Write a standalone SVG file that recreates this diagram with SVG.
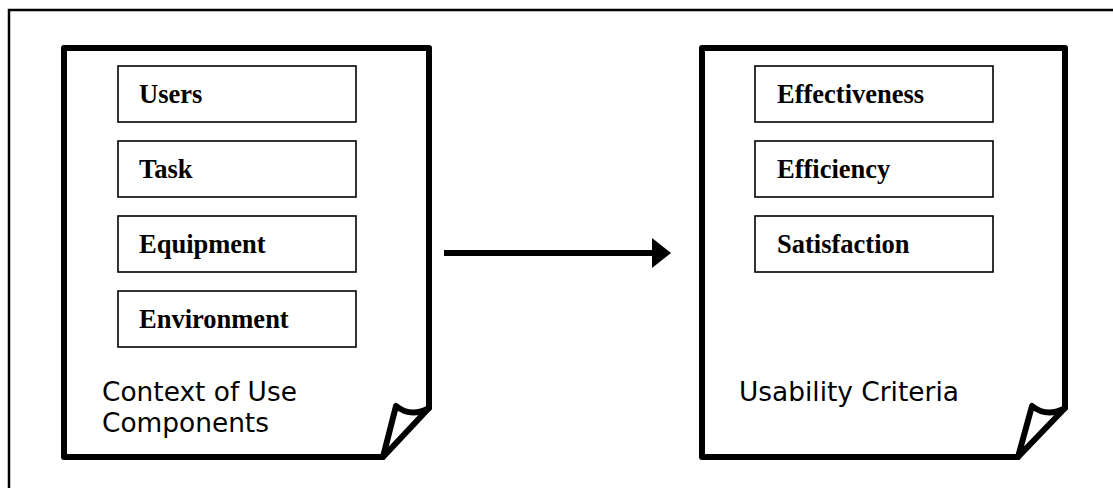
<svg xmlns="http://www.w3.org/2000/svg" width="1113" height="488" viewBox="0 0 1113 488">
<style>
.doc{fill:#fff;stroke:#000;stroke-width:6;stroke-linejoin:round;stroke-linecap:round}
.curl{fill:none;stroke:#000;stroke-width:6;stroke-linejoin:round;stroke-linecap:round}
.box{fill:#fff;stroke:#000;stroke-width:1.6}
.bt{font-family:"Liberation Serif",serif;font-weight:bold;font-size:26.5px;fill:#000}
.lbl{font-family:"DejaVu Sans",Verdana,sans-serif;font-size:26.4px;fill:#000}
</style>
<defs>
<marker id="ah" markerUnits="userSpaceOnUse" markerWidth="20" markerHeight="30" refX="0" refY="15" orient="auto">
<path d="M0,0 L19,15 L0,30 Z" fill="#000"/>
</marker>
</defs>
<rect x="0" y="0" width="1113" height="488" fill="#fff"/>
<g id="frame">
<path d="M9,488 V10 H1113" fill="none" stroke="#000" stroke-width="2.5"/>
</g>
<g id="context-of-use">
<path class="doc" d="M383,457 H64 V48 H429 V408 Z"/>
<path class="curl" d="M429,408 Q411,418 396,406 L383,457"/>
<text class="lbl" x="102" y="401">Context of Use</text>
<text class="lbl" x="102" y="432">Components</text>
</g>
<g id="users"><rect class="box" x="118" y="66" width="238" height="56"/><text class="bt" x="139" y="103">Users</text></g>
<g id="task"><rect class="box" x="118" y="141" width="238" height="56"/><text class="bt" x="139" y="178">Task</text></g>
<g id="equipment"><rect class="box" x="118" y="216" width="238" height="56"/><text class="bt" x="139" y="253">Equipment</text></g>
<g id="environment"><rect class="box" x="118" y="291" width="238" height="56"/><text class="bt" x="139" y="328">Environment</text></g>
<g id="usability-criteria">
<path class="doc" d="M1018,457 H702 V48 H1065 V408 Z"/>
<path class="curl" d="M1065,408 Q1047,418 1032,406 L1018,457"/>
<text class="lbl" x="739" y="401">Usability Criteria</text>
</g>
<g id="effectiveness"><rect class="box" x="755" y="66" width="238" height="56"/><text class="bt" x="777" y="103">Effectiveness</text></g>
<g id="efficiency"><rect class="box" x="755" y="141" width="238" height="56"/><text class="bt" x="777" y="178">Efficiency</text></g>
<g id="satisfaction"><rect class="box" x="755" y="216" width="238" height="56"/><text class="bt" x="777" y="253">Satisfaction</text></g>
<g id="connectors">
<line x1="444" y1="253" x2="652" y2="253" stroke="#000" stroke-width="6" marker-end="url(#ah)"/>
</g>
</svg>
